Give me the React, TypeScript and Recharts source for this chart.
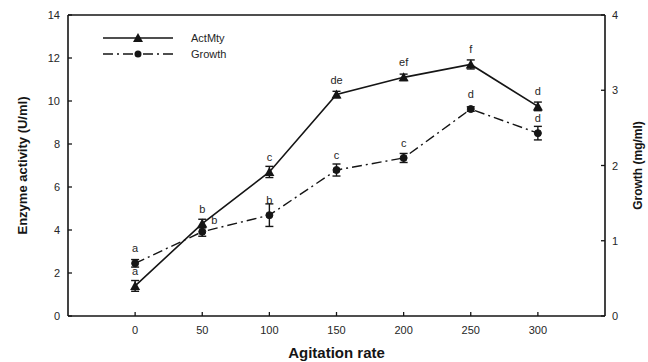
import {
  ComposedChart,
  Line,
  XAxis,
  YAxis,
  ErrorBar,
  LabelList,
  ReferenceLine,
  Legend,
} from "recharts";

const rates = [0, 50, 100, 150, 200, 250, 300];
const activity = [1.4, 4.3, 6.7, 10.3, 11.1, 11.7, 9.75];
const activityErr = [0.25, 0.2, 0.26, 0.15, 0.15, 0.21, 0.2];
const growth = [0.7, 1.12, 1.34, 1.94, 2.1, 2.75, 2.43];
const growthErr = [0.05, 0.06, 0.15, 0.08, 0.06, 0.03, 0.09];
const activityLetters = ["a", "b", "c", "de", "ef", "f", "d"];
const growthLetters = ["a", "b", "b", "c", "c", "d", "d"];
const xTicks = [0, 50, 100, 150, 200, 250, 300];
const leftTicks = [0, 2, 4, 6, 8, 10, 12, 14];
const rightTicks = [0, 1, 2, 3, 4];

const data = rates.map((rate, i) => ({
  rate,
  activity: activity[i],
  activityErr: activityErr[i],
  growth: growth[i],
  growthErr: growthErr[i],
}));

const font = "'Liberation Sans', Arial, sans-serif";
const ink = "#151515";
const txt = "#262626";

function XTick({ x, y, payload }: any) {
  return (
    <g>
      <line x1={x} x2={x} y1={y} y2={y - 4} stroke={ink} strokeWidth={1.3} />
      <text x={x} y={y + 14} textAnchor="middle" dominantBaseline="central" fontSize={11} fill={txt} fontFamily={font}>
        {payload.value}
      </text>
    </g>
  );
}

function LeftTick({ x, y, payload }: any) {
  return (
    <g>
      <line x1={x} x2={x + 4} y1={y} y2={y} stroke={ink} strokeWidth={1.3} />
      <text x={x - 8} y={y} textAnchor="end" dominantBaseline="central" fontSize={11} fill={txt} fontFamily={font}>
        {payload.value}
      </text>
    </g>
  );
}

function RightTick({ x, y, payload }: any) {
  return (
    <g>
      <line x1={x} x2={x - 4} y1={y} y2={y} stroke={ink} strokeWidth={1.3} />
      <text x={x + 7} y={y} textAnchor="start" dominantBaseline="central" fontSize={11} fill={txt} fontFamily={font}>
        {payload.value}
      </text>
    </g>
  );
}

function Triangle({ cx, cy }: any) {
  if (cx == null || cy == null) return null;
  return <path d={`M${cx},${cy - 5}L${cx + 5},${cy + 4}L${cx - 5},${cy + 4}Z`} fill={ink} />;
}

function letterLabel(letters: string[], shifted: number) {
  return (props: any) => {
    const { x, y, index } = props;
    const right = index === shifted;
    return (
      <text
        x={right ? x + 12 : x}
        y={right ? y - 12 : y - 15}
        textAnchor="middle"
        dominantBaseline="central"
        fontSize={11}
        fill={txt}
        fontFamily={font}
      >
        {letters[index]}
      </text>
    );
  };
}

function LegendBox() {
  return (
    <svg width={170} height={34}>
      <line x1={0} x2={70} y1={9} y2={9} stroke={ink} strokeWidth={1.5} />
      <path d="M35,4L40,13L30,13Z" fill={ink} />
      <text x={88} y={9} dominantBaseline="central" fontSize={11} fill={txt} fontFamily={font}>
        ActMty
      </text>
      <line x1={0} x2={70} y1={25} y2={25} stroke={ink} strokeWidth={1.3} strokeDasharray="10 4 2 4" />
      <circle cx={35} cy={25} r={3.5} fill={ink} />
      <text x={88} y={25} dominantBaseline="central" fontSize={11} fill={txt} fontFamily={font}>
        Growth
      </text>
    </svg>
  );
}

export default function App() {
  return (
    <div style={{ position: "absolute", left: 0, top: 0, width: 648, height: 362, background: "#fff" }}>
      <ComposedChart
        width={648}
        height={362}
        data={data}
        margin={{ top: 15, right: 0, bottom: 0, left: 0 }}
        style={{ fontFamily: font }}
      >
        <XAxis
          dataKey="rate"
          type="number"
          domain={[-50, 350]}
          ticks={xTicks}
          height={46}
          tickSize={0}
          tickMargin={0}
          tickLine={false}
          tick={<XTick />}
          axisLine={{ stroke: ink, strokeWidth: 1.6 }}
          label={{ value: "Agitation rate", position: "insideBottom", offset: 4, fontSize: 15, fontWeight: "bold", fill: ink }}
        />
        <YAxis
          yAxisId="left"
          domain={[0, 14]}
          ticks={leftTicks}
          width={68}
          tickSize={0}
          tickMargin={0}
          tickLine={false}
          tick={<LeftTick />}
          axisLine={{ stroke: ink, strokeWidth: 1.6 }}
          label={{
            value: "Enzyme activity (U/ml)",
            angle: -90,
            position: "insideLeft",
            offset: 22,
            style: { textAnchor: "middle", fontSize: 13, fontWeight: "bold", fill: ink },
          }}
        />
        <YAxis
          yAxisId="right"
          orientation="right"
          domain={[0, 4]}
          ticks={rightTicks}
          width={43}
          tickSize={0}
          tickMargin={0}
          tickLine={false}
          tick={<RightTick />}
          axisLine={{ stroke: ink, strokeWidth: 1.6 }}
          label={{
            value: "Growth (mg/ml)",
            angle: -90,
            position: "insideRight",
            offset: 10,
            style: { textAnchor: "middle", fontSize: 12, fontWeight: "bold", fill: ink },
          }}
        />
        <ReferenceLine yAxisId="left" y={14} stroke={ink} strokeWidth={1.6} />
        <Legend
          layout="vertical"
          align="center"
          verticalAlign="middle"
          wrapperStyle={{ position: "absolute", top: 29, left: 103, width: 170, height: 34 }}
          content={() => <LegendBox />}
        />
        <Line
          yAxisId="left"
          dataKey="activity"
          stroke={ink}
          strokeWidth={1.6}
          isAnimationActive={false}
          dot={(p: any) => <Triangle key={`t${p.index}`} cx={p.cx} cy={p.cy} />}
          activeDot={false}
        >
          <ErrorBar dataKey="activityErr" width={4} stroke={ink} strokeWidth={1.4} direction="y" />
          <LabelList dataKey="activity" content={letterLabel(activityLetters, -1)} />
        </Line>
        <Line
          yAxisId="right"
          dataKey="growth"
          stroke={ink}
          strokeWidth={1.4}
          strokeDasharray="10 4 2 4"
          isAnimationActive={false}
          dot={{ r: 3.5, fill: ink, stroke: ink, strokeWidth: 1, strokeDasharray: "" }}
          activeDot={false}
        >
          <ErrorBar dataKey="growthErr" width={4} stroke={ink} strokeWidth={1.4} direction="y" />
          <LabelList dataKey="growth" content={letterLabel(growthLetters, 1)} />
        </Line>
      </ComposedChart>
    </div>
  );
}
